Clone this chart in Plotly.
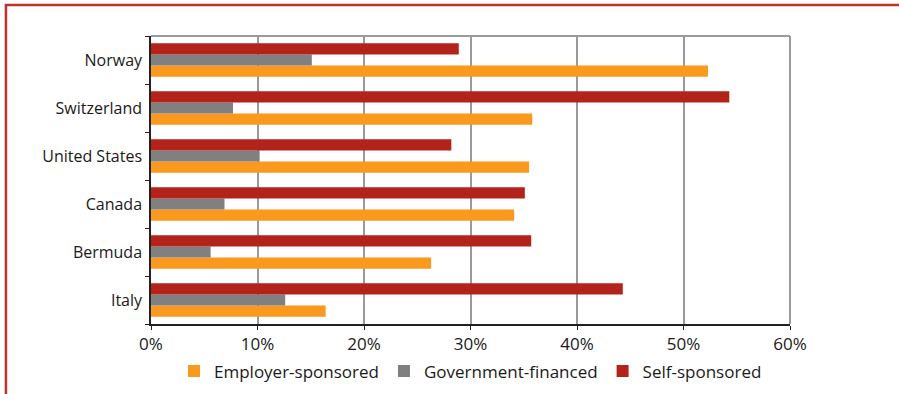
import plotly.graph_objects as go

# Dados (percentual)
paises = ["Italy", "Bermuda", "Canada", "United States", "Switzerland", "Norway"]
empregador = [16.4, 26.3, 34.1, 35.5, 35.8, 52.3]
governo = [12.6, 5.6, 6.9, 10.2, 7.7, 15.1]
proprio = [44.3, 35.7, 35.1, 28.2, 54.3, 28.9]

nomes_series = ["Employer-sponsored", "Government-financed", "Self-sponsored"]
CORES = ["#F99A1F", "#808080", "#B3231A"]
ticks_x = [0, 10, 20, 30, 40, 50, 60]
rotulos_x = [f"{v}%" for v in ticks_x]

FONTE = "'Open Sans', Lato, sans-serif"

fig = go.Figure()
for nome, valores, cor in zip(nomes_series, [empregador, governo, proprio], CORES):
    fig.add_trace(go.Bar(
        y=paises, x=valores,
        orientation="h",
        name=nome,
        marker=dict(color=cor, line=dict(width=0)),
    ))

fig.update_layout(
    width=899, height=394,
    margin=dict(l=151, r=109, t=36, b=70, autoexpand=False),
    barmode="group",
    bargap=0.3,
    bargroupgap=0,
    plot_bgcolor="white",
    paper_bgcolor="white",
    font=dict(family=FONTE, size=16, color="#1a1a1a"),
    legend=dict(
        orientation="h",
        x=0.5, xanchor="center",
        y=-0.165, yanchor="middle",
        font=dict(size=17),
        bgcolor="rgba(0,0,0,0)",
        itemwidth=30,
        tracegroupgap=0,
    ),
    xaxis=dict(
        range=[0, 60],
        tickvals=ticks_x,
        ticktext=rotulos_x,
        showgrid=True,
        gridcolor="#9a9a9a",
        gridwidth=1.5,
        zeroline=False,
        showline=True,
        linecolor="#222222",
        linewidth=1.5,
        ticks="outside",
        ticklen=4,
        tickcolor="#222222",
        ticklabelstandoff=0,
        tickfont=dict(size=17),
        fixedrange=True,
    ),
    yaxis=dict(
        showgrid=False,
        showline=True,
        linecolor="#222222",
        linewidth=1.5,
        ticks="outside",
        tickson="boundaries",
        ticklen=4,
        tickcolor="#222222",
        ticklabelstandoff=4,
    ),
    shapes=[
        # borda superior e direita da área do gráfico
        dict(type="line", xref="paper", yref="paper", x0=0, x1=1, y0=1, y1=1,
             line=dict(color="#9a9a9a", width=2)),
        dict(type="line", xref="paper", yref="paper", x0=1, x1=1, y0=0, y1=1,
             line=dict(color="#9a9a9a", width=2)),
        # moldura vermelha
        dict(type="rect", xref="paper", yref="paper",
             x0=-0.227, x1=1.3, y0=-0.3, y1=1.108,
             line=dict(color="#C0302A", width=2.5)),
    ],
)

fig.write_html("out.html", config={"displayModeBar": False},
               post_script="document.body.style.margin='0';")
